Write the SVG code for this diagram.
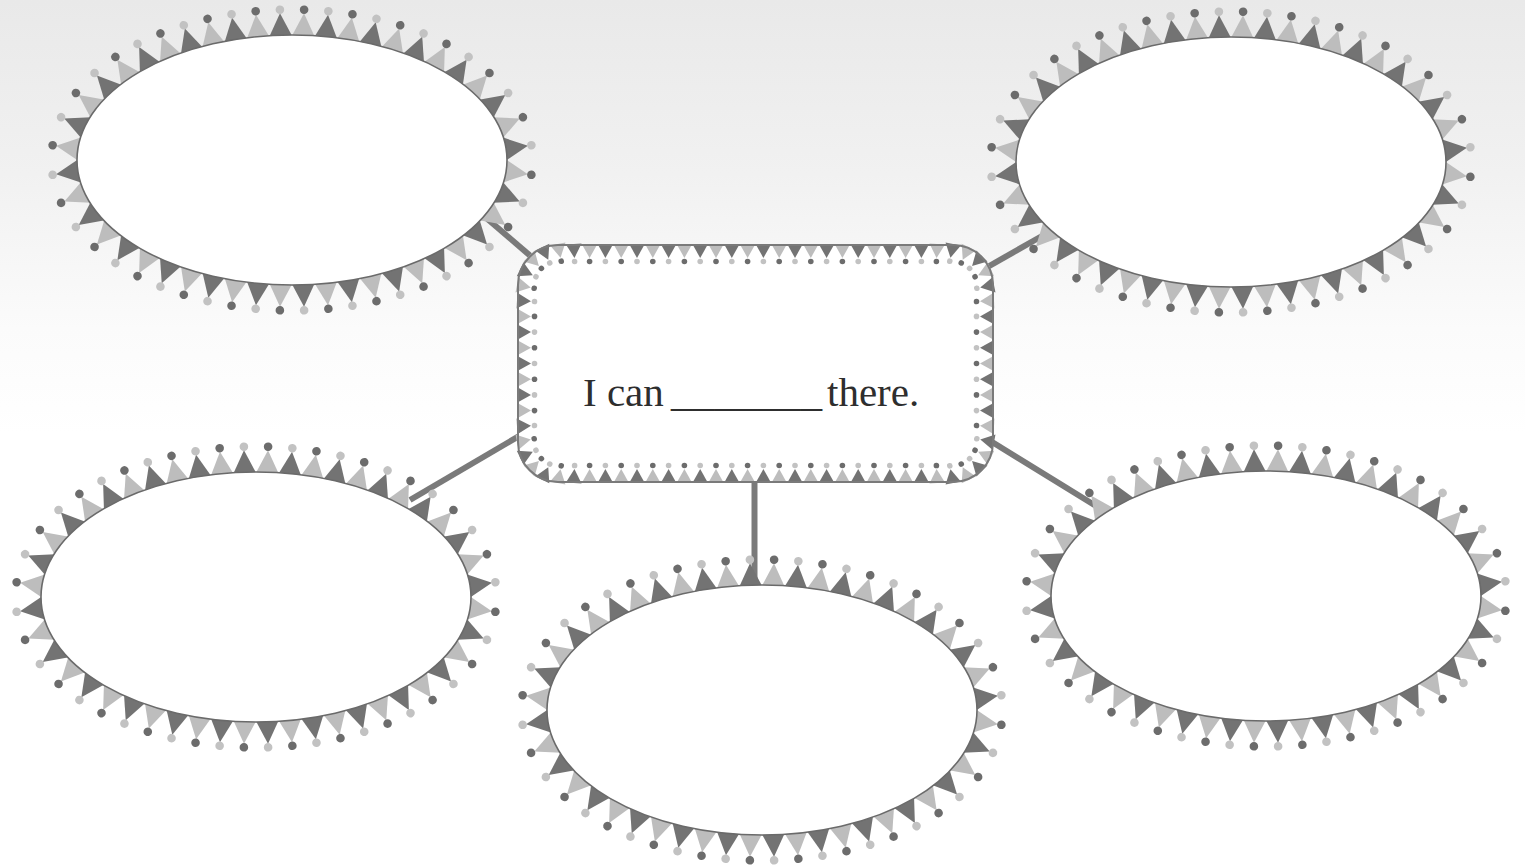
<svg xmlns="http://www.w3.org/2000/svg" width="1525" height="866" viewBox="0 0 1525 866">
<style>
.bg{fill:url(#bgg)}
.conn line{stroke:#7a7a7a;stroke-width:6;stroke-linecap:butt}
.pe{fill:none;stroke:none;marker-mid:url(#mE)}
.po{fill:none;stroke:none;marker-mid:url(#mO)}
.re{fill:none;stroke:none;marker-mid:url(#rE)}
.ro{fill:none;stroke:none;marker-mid:url(#rO)}
.oval{fill:#ffffff;stroke:#6a6a6a;stroke-width:1.6}
.box{fill:#ffffff}
.boxline{fill:none;stroke:#7a7a7a;stroke-width:2}
.lbl{font-family:"Liberation Serif","Times New Roman",serif;font-size:41px;fill:#2e2e2e}
</style>
<defs>
<linearGradient id="bgg" x1="0" y1="0" x2="0" y2="1">
<stop offset="0" stop-color="#e9e9e9"/>
<stop offset="0.2" stop-color="#f1f1f1"/>
<stop offset="0.38" stop-color="#fbfbfb"/>
<stop offset="0.5" stop-color="#ffffff"/>
<stop offset="1" stop-color="#ffffff"/>
</linearGradient>
<marker id="mE" markerUnits="userSpaceOnUse" orient="auto" refX="0" refY="0" markerWidth="40" markerHeight="40" overflow="visible">
<path d="M-11.8,2 L11.8,2 L0,-22 Z" fill="#bdbdbd"/>
<circle cx="0" cy="-25.5" r="4.3" fill="#6c6c6c"/>
</marker>
<marker id="mO" markerUnits="userSpaceOnUse" orient="auto" refX="0" refY="0" markerWidth="40" markerHeight="40" overflow="visible">
<path d="M-11.8,2 L11.8,2 L0,-22 Z" fill="#737373"/>
<circle cx="0" cy="-25.5" r="4.3" fill="#c2c2c2"/>
</marker>
<marker id="rE" markerUnits="userSpaceOnUse" orient="auto" refX="0" refY="0" markerWidth="30" markerHeight="30" overflow="visible">
<path d="M-7.8,-1 L7.8,-1 L0,13 Z" fill="#bdbdbd"/>
<circle cx="0" cy="16.5" r="2.8" fill="#6c6c6c"/>
</marker>
<marker id="rO" markerUnits="userSpaceOnUse" orient="auto" refX="0" refY="0" markerWidth="30" markerHeight="30" overflow="visible">
<path d="M-7.8,-1 L7.8,-1 L0,13 Z" fill="#737373"/>
<circle cx="0" cy="16.5" r="2.8" fill="#c2c2c2"/>
</marker>
<path id="ringE" class="pe" d="M207.47,-32.8 L214.12,11.26 L195.55,51.96 L162.09,82.12 L121.9,102.97 L78.69,116.33 L33.97,123.43 L-11.33,124.83 L-56.41,120.62 L-100.57,110.48 L-142.55,93.58 L-180.03,68.34 L-207.47,32.8 L-214.12,-11.26 L-195.55,-51.96 L-162.09,-82.12 L-121.9,-102.97 L-78.69,-116.33 L-33.97,-123.43 L11.33,-124.83 L56.41,-120.62 L100.57,-110.48 L142.55,-93.58 L180.03,-68.34 L207.47,-32.8 L214.12,11.26"/>
<path id="ringO" class="po" d="M214.12,-11.26 L207.47,32.8 L180.03,68.34 L142.55,93.58 L100.57,110.48 L56.41,120.62 L11.33,124.83 L-33.97,123.43 L-78.69,116.33 L-121.9,102.97 L-162.09,82.12 L-195.55,51.96 L-214.12,11.26 L-207.47,-32.8 L-180.03,-68.34 L-142.55,-93.58 L-100.57,-110.48 L-56.41,-120.62 L-11.33,-124.83 L33.97,-123.43 L78.69,-116.33 L121.9,-102.97 L162.09,-82.12 L195.55,-51.96 L214.12,-11.26 L207.47,32.8"/>
<g id="bubble">
<use href="#ringE"/>
<use href="#ringO"/>
<ellipse class="oval" cx="0" cy="0" rx="215" ry="125"/>
</g>
</defs>

<rect class="bg" x="0" y="0" width="1525" height="866"/>

<g id="connectors" class="conn">
<line x1="470" y1="204" x2="548" y2="271"/>
<line x1="1042" y1="236" x2="970" y2="277"/>
<line x1="410" y1="500" x2="526" y2="432"/>
<line x1="754.5" y1="480" x2="754.5" y2="580"/>
<line x1="984" y1="437" x2="1096" y2="506"/>
</g>

<g id="node-top-left" transform="translate(292,160)">
<use href="#bubble"/>
</g>
<g id="node-top-right" transform="translate(1231,162)">
<use href="#bubble"/>
</g>
<g id="node-bottom-left" transform="translate(256,597)">
<use href="#bubble"/>
</g>
<g id="node-bottom-middle" transform="translate(762,710)">
<use href="#bubble"/>
</g>
<g id="node-bottom-right" transform="translate(1266,596)">
<use href="#bubble"/>
</g>

<g id="node-center">
<rect class="box" x="518" y="245" width="475" height="237" rx="40" ry="40"/>
<path class="re" d="M529.72,256.72 L558,245 L589.6,245 L621.2,245 L652.8,245 L684.4,245 L716,245 L747.6,245 L779.2,245 L810.8,245 L842.4,245 L874,245 L905.6,245 L937.2,245 L968.31,248.04 L989.96,269.69 L993,300.7 L993,332.1 L993,363.5 L993,394.9 L993,426.3 L989.96,457.31 L968.31,478.96 L937.2,482 L905.6,482 L874,482 L842.4,482 L810.8,482 L779.2,482 L747.6,482 L716,482 L684.4,482 L652.8,482 L621.2,482 L589.6,482 L558,482 L529.72,470.28 L518,442 L518,410.6 L518,379.2 L518,347.8 L518,316.4 L518,285 L529.72,256.72 L558,245"/>
<path class="ro" d="M542.69,248.04 L573.8,245 L605.4,245 L637,245 L668.6,245 L700.2,245 L731.8,245 L763.4,245 L795,245 L826.6,245 L858.2,245 L889.8,245 L921.4,245 L953,245 L981.28,256.72 L993,285 L993,316.4 L993,347.8 L993,379.2 L993,410.6 L993,442 L981.28,470.28 L953,482 L921.4,482 L889.8,482 L858.2,482 L826.6,482 L795,482 L763.4,482 L731.8,482 L700.2,482 L668.6,482 L637,482 L605.4,482 L573.8,482 L542.69,478.96 L521.04,457.31 L518,426.3 L518,394.9 L518,363.5 L518,332.1 L518,300.7 L521.04,269.69 L542.69,248.04 L573.8,245"/>
<rect class="boxline" x="518" y="245" width="475" height="237" rx="40" ry="40"/>
<text class="lbl" x="583" y="406">I can<tspan x="671" textLength="151" lengthAdjust="spacingAndGlyphs">_______</tspan><tspan x="827">there.</tspan></text>
</g>
</svg>
